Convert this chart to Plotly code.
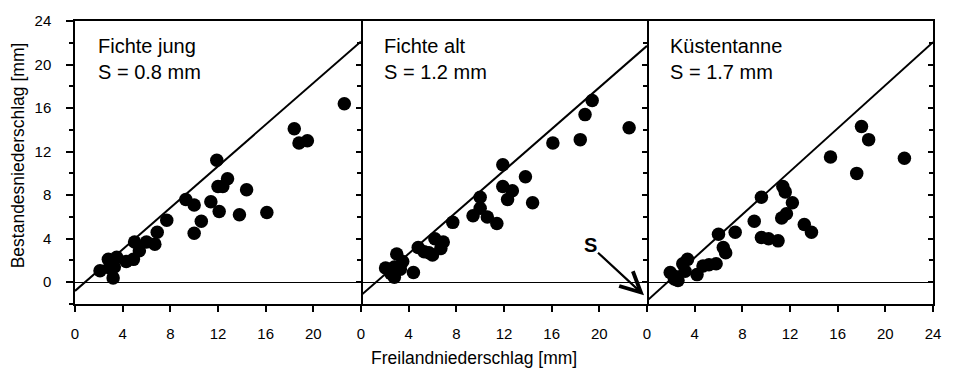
import plotly.graph_objects as go

# ---------------- data ----------------
panel_names = ["Fichte jung", "Fichte alt", "Küstentanne"]
storage_S = [0.8, 1.2, 1.7]          # interception storage S [mm]
line_slopes = [0.955, 0.955, 0.99]   # slope of envelope line

fj_x = [22.6, 18.4, 18.8, 19.5, 11.9, 12.8, 12.0, 12.4, 14.4, 9.3, 10.0, 11.4, 12.1, 13.8, 16.1, 10.6,
        10.0, 7.7, 6.9, 6.7, 6.0, 5.4, 5.0, 4.9, 4.3, 3.5, 2.8, 3.1, 3.3, 2.1, 2.9, 3.2]
fj_y = [16.4, 14.1, 12.8, 13.0, 11.2, 9.5, 8.8, 8.8, 8.5, 7.6, 7.1, 7.4, 6.5, 6.2, 6.4, 5.6,
        4.5, 5.7, 4.6, 3.5, 3.7, 2.9, 3.7, 2.1, 1.9, 2.3, 2.1, 1.7, 1.4, 1.05, 1.3, 0.4]

fa_x = [22.5, 19.4, 18.8, 18.4, 16.1, 11.9, 13.8, 11.9, 12.7, 10.0, 12.3, 14.4, 10.0, 9.4, 10.6, 11.4,
        7.7, 6.2, 6.9, 6.7, 6.0, 4.8, 5.3, 5.7, 3.0, 3.5, 2.06, 2.8, 2.5, 2.8, 4.4, 3.3]
fa_y = [14.2, 16.7, 15.4, 13.1, 12.8, 10.8, 9.7, 8.8, 8.4, 7.8, 7.6, 7.3, 6.8, 6.1, 6.0, 5.4,
        5.5, 4.0, 3.7, 3.1, 2.5, 3.2, 2.8, 2.7, 2.6, 1.9, 1.3, 1.4, 0.8, 0.45, 0.9, 1.2]

kt_x = [21.6, 18.0, 18.6, 15.4, 17.6, 11.4, 11.6, 9.6, 12.2, 11.7, 11.3, 9.0, 13.2, 13.8, 9.6, 10.2,
        11.0, 6.0, 7.4, 6.4, 6.6, 5.8, 5.2, 4.7, 4.2, 3.4, 3.0, 3.2, 1.95, 2.45, 2.6, 2.3]
kt_y = [11.4, 14.3, 13.1, 11.5, 10.0, 8.8, 8.3, 7.8, 7.3, 6.3, 5.9, 5.6, 5.3, 4.6, 4.1, 4.0,
        3.8, 4.4, 4.6, 3.2, 2.7, 1.7, 1.6, 1.5, 0.7, 2.1, 1.7, 1.0, 0.9, 0.5, 0.15, 0.3]

# "S" arrow tip (panel 2 data coordinates)
s_arrow_tip = (23.75, -1.2)

x_range = [0, 24]
y_range = [-2, 24]
x_ticks_inner = [0, 4, 8, 12, 16, 20]
x_ticks_last = [0, 4, 8, 12, 16, 20, 24]
y_ticks = [0, 4, 8, 12, 16, 20, 24]

FONT = "Liberation Sans, Arial, Helvetica, sans-serif"

panels_x = [fj_x, fa_x, kt_x]
panels_y = [fj_y, fa_y, kt_y]

fig = go.Figure()

for i in range(3):
    sfx = "" if i == 0 else str(i + 1)
    xr, yr = "x" + sfx, "y" + sfx
    S = storage_S[i]
    b = line_slopes[i]
    fig.add_trace(go.Scatter(x=[x_range[0], x_range[1]], y=[-S + b * x_range[0], -S + b * x_range[1]],
                             mode="lines", line=dict(color="black", width=2),
                             xaxis=xr, yaxis=yr, showlegend=False, hoverinfo="skip"))
    fig.add_trace(go.Scatter(x=panels_x[i], y=panels_y[i], mode="markers",
                             marker=dict(color="black", size=13.5, line=dict(width=0)),
                             xaxis=xr, yaxis=yr, showlegend=False))
    # invisible trace for overlay axis with inward ticks on the right edge
    fig.add_trace(go.Scatter(x=[None], y=[None], xaxis=xr, yaxis="y" + str(i + 4),
                             showlegend=False, hoverinfo="skip"))

domains = [[0, 1/3], [1/3, 2/3], [2/3, 1]]
LW = 1.5

for i in range(3):
    sfx = "" if i == 0 else str(i + 1)
    fig.layout["xaxis" + sfx] = dict(
        domain=domains[i], range=x_range, anchor="y" + sfx,
        showgrid=False, showline=True, linecolor="black", linewidth=LW, mirror=True,
        tickmode="array", tickvals=(x_ticks_last if i == 2 else x_ticks_inner),
        ticks="outside", ticklen=6, tickwidth=1.5, tickcolor="black",
        zeroline=False, ticklabelstandoff=9,
        tickfont=dict(family=FONT, size=15, color="black"))
    ydict = dict(range=y_range, anchor="x" + sfx, domain=[0, 1], showgrid=False,
                 zeroline=True, zerolinecolor="black", zerolinewidth=1,
                 showline=True, linecolor="black", linewidth=LW)
    if i == 0:
        ydict.update(mirror=True, side="left",
                     tickmode="array", tickvals=y_ticks, ticks="outside", ticklen=7,
                     tickwidth=1.5, tickcolor="black", ticklabelstandoff=12,
                     tickfont=dict(family=FONT, size=15, color="black"),
                     minor=dict(ticks="outside", ticklen=4, tickwidth=1.5, tickcolor="black",
                                tick0=0, dtick=2))
    else:
        ydict.update(mirror=False, side="right", ticks="", showticklabels=False, matches="y")
    fig.layout["yaxis" + sfx] = ydict
    # overlay axis: inward ticks on right edge
    fig.layout["yaxis" + str(i + 4)] = dict(
        overlaying="y" + sfx, anchor="x" + sfx, side="right", range=y_range,
        showgrid=False, zeroline=False, showline=False, showticklabels=False,
        tickmode="array", tickvals=y_ticks, ticks="inside", ticklen=5, tickwidth=1.5,
        tickcolor="black",
        minor=dict(ticks="inside", ticklen=4, tickwidth=1.5, tickcolor="black", tick0=0, dtick=2))

annotations = []
for i in range(3):
    sfx = "" if i == 0 else str(i + 1)
    annotations.append(dict(text=panel_names[i], xref="x" + sfx + " domain", yref="y" + sfx + " domain",
                            x=0.075, y=0.913, xanchor="left", yanchor="middle", showarrow=False,
                            font=dict(family=FONT, size=20, color="black")))
    annotations.append(dict(text=f"S = {storage_S[i]} mm", xref="x" + sfx + " domain",
                            yref="y" + sfx + " domain",
                            x=0.075, y=0.82, xanchor="left", yanchor="middle", showarrow=False,
                            font=dict(family=FONT, size=20, color="black")))

annotations.append(dict(text="<b>S</b>", xref="x2", yref="y2", x=s_arrow_tip[0], y=s_arrow_tip[1],
                        ax=-54, ay=-50, showarrow=True, arrowhead=5, arrowsize=1.8,
                        arrowwidth=2.2, arrowcolor="black", standoff=0, startstandoff=0,
                        font=dict(family=FONT, size=20, color="black")))

# axis titles
annotations.append(dict(text="Freilandniederschlag [mm]", xref="paper", yref="paper",
                        x=0.4646, y=-0.19, xanchor="center", yanchor="middle", showarrow=False,
                        font=dict(family=FONT, size=17.5, color="black")))
annotations.append(dict(text="Bestandesniederschlag [mm]", xref="paper", yref="paper",
                        x=-0.0662, y=0.526, xanchor="center", yanchor="middle", showarrow=False,
                        textangle=-90, font=dict(family=FONT, size=17.5, color="black")))

fig.update_layout(width=953, height=375, margin=dict(l=75, r=17, t=13, b=71),
                  paper_bgcolor="white", plot_bgcolor="white",
                  annotations=annotations, font=dict(family=FONT, color="black"))

fig.write_html("out.html")
